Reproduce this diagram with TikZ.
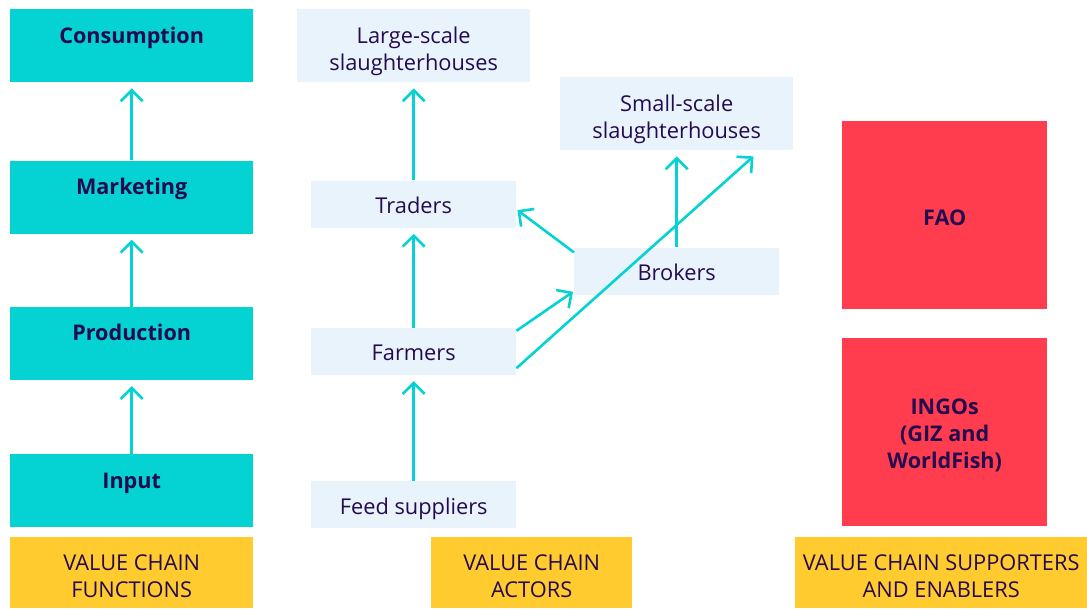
\documentclass[tikz,border=0pt]{standalone}
\usepackage{fontspec}
\setmainfont{Open Sans}
\usepackage{xcolor}
\usepackage{tikz}
\usetikzlibrary{arrows.meta,positioning}
\definecolor{fncol}{HTML}{05D3D3}
\definecolor{actcol}{HTML}{E8F3FC}
\definecolor{suppcol}{HTML}{FF3D4E}
\definecolor{labcol}{HTML}{FFCB2E}
\definecolor{ink}{HTML}{240B50}
\tikzset{
  fnbox/.style={fill=fncol, text=ink, font=\fontsize{21.6}{27}\selectfont\bfseries, minimum width=243pt, inner sep=0pt, text height=34pt, text depth=39pt},
  actbox/.style={fill=actcol, text=ink, font=\fontsize{21.8}{27}\selectfont, minimum width=205pt, inner sep=0pt, align=center, text height=33pt, text depth=14pt},
  actwide/.style={actbox, minimum width=233pt, text height=61pt, text depth=12pt},
  suppbox/.style={fill=suppcol, text=ink, font=\fontsize{21.6}{27}\selectfont\bfseries, minimum width=205pt, inner sep=0pt, align=center},
  labbox/.style={fill=labcol, text=ink, font=\fontsize{21.8}{27}\selectfont, inner sep=0pt, align=center, text height=60pt, text depth=11pt},
  arr/.style={-{Straight Barb[length=11pt,width=22pt]}, line width=2.6pt, draw=fncol, shorten >=6pt}
}

\begin{document}
\begin{tikzpicture}[x=1pt, y=1pt]
  \useasboundingbox (0,0) rectangle (1087,608);

  % value chain functions
  \node[fnbox, anchor=north west] (cons) at (10,599) {Consumption};
  \node[fnbox, below=78pt of cons] (mkt)  {Marketing};
  \node[fnbox, below=73pt of mkt]  (prod) {Production};
  \node[fnbox, below=74pt of prod] (inp)  {Input};

  % value chain actors
  \node[actwide, anchor=north west] (large) at (297,599) {Large-scale\\slaughterhouses};
  \node[actbox, below=98pt of large]    (traders) {Traders};
  \node[actbox, below=100pt of traders] (farmers) {Farmers};
  \node[actbox, below=106pt of farmers] (feed)    {Feed suppliers};

  \node[actwide, anchor=north west] (small) at (560,531) {Small-scale\\slaughterhouses};
  \node[actbox, below=97pt of small] (brokers) {Brokers};

  % supporters and enablers
  \node[suppbox, text height=104pt, text depth=84pt, anchor=north west] (fao) at (842,487) {FAO};
  \node[suppbox, text height=131pt, text depth=57pt, below=28pt of fao] (ingo) {INGOs\\(GIZ and\\WorldFish)};

  % column labels
  \node[labbox, minimum width=243pt, anchor=north west] (fnlab)  at (10,71)  {VALUE CHAIN\\FUNCTIONS};
  \node[labbox, minimum width=201pt, anchor=north west] (actlab) at (431,71) {VALUE CHAIN\\ACTORS};
  \node[labbox, minimum width=292pt, anchor=north west] (suplab) at (795,71) {VALUE CHAIN SUPPORTERS\\AND ENABLERS};

  % arrows between functions
  \draw[arr] (inp.north)  -- (prod.south);
  \draw[arr] (prod.north) -- (mkt.south);
  \draw[arr] (mkt.north)  -- (cons.south);

  % arrows between actors
  \draw[arr] (feed.north)    -- (farmers.south);
  \draw[arr] (farmers.north) -- (traders.south);
  \draw[arr] (traders.north) -- (large.south);
  \draw[arr] (brokers.north) -- (small.south);
  \draw[arr, shorten >=0pt] ([yshift=-5pt]brokers.north west) -- ([shift={(1pt,-6pt)}]traders.east);
  \draw[arr, shorten >=0pt] ([yshift=-3pt]farmers.north east) -- ([shift={(-1pt,3pt)}]brokers.south west);
  \draw[arr, shorten >=0pt] ([yshift=7pt]farmers.south east) -- ([shift={(-40pt,-6pt)}]small.south east);
\end{tikzpicture}
\end{document}
